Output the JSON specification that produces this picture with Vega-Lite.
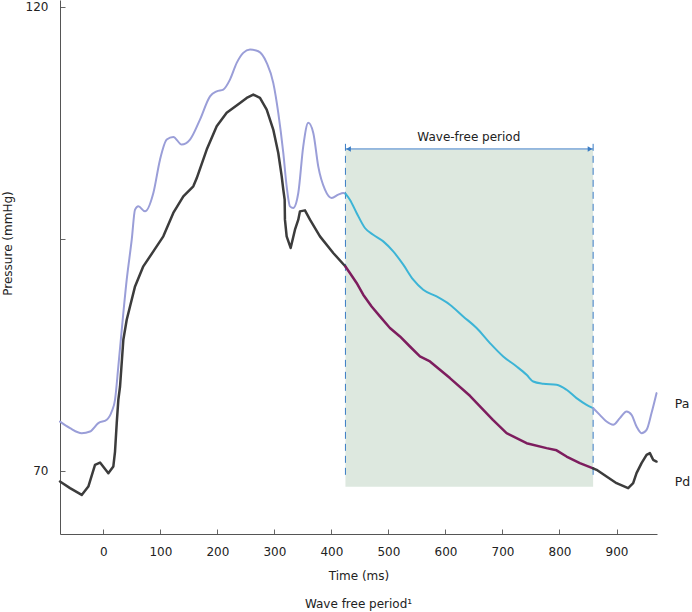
{
  "$schema": "https://vega.github.io/schema/vega-lite/v6.json",
  "width": 597,
  "height": 534,
  "autosize": {"type": "none"},
  "padding": {"left": 60, "top": 0, "right": 35, "bottom": 78},
  "background": "white",
  "config": {
    "view": {"stroke": null},
    "font": "DejaVu Sans",
    "axis": {
      "grid": false,
      "domainColor": "#555555",
      "tickColor": "#666666",
      "labelColor": "#222222",
      "labelFontSize": 12,
      "titleFontSize": 12,
      "titleFontWeight": "normal",
      "titleColor": "#222222",
      "tickSize": -5
    }
  },
  "title": {
    "text": "Wave free period¹",
    "orient": "bottom",
    "anchor": "middle",
    "fontSize": 12,
    "fontWeight": "normal",
    "color": "#222222",
    "offset": 18
  },
  "datasets": {
    "box": [{"t": 424.6, "t2": 859, "p": 68.28, "p2": 104.6}],
    "dash": [{"t": 424.6, "p": 69.57, "p2": 105.45}, {"t": 859, "p": 69.57, "p2": 105.45}],
    "arrow": [{"t": 424.6, "t2": 859, "p": 104.66}],
    "heads": [{"t": 430, "p": 104.66, "sh": "triangle-left"}, {"t": 853.6, "p": 104.66, "sh": "triangle-right"}],
    "labels": [{"t": 641, "p": 105.9, "txt": "Wave-free period"}],
    "names": [{"t": 1002, "p": 77.22, "txt": "Pa"}, {"t": 1002, "p": 68.81, "txt": "Pd"}],
    "pa": [
      {"g": "pre", "t": -76, "p": 75.3}, {"g": "pre", "t": -58.4, "p": 74.6}, {"g": "pre", "t": -37.9, "p": 74.06}, {"g": "pre", "t": -23.3, "p": 74.24},
      {"g": "pre", "t": -8.8, "p": 75.14}, {"g": "pre", "t": 6, "p": 75.5}, {"g": "pre", "t": 14.7, "p": 76.39}, {"g": "pre", "t": 20.5, "p": 77.65},
      {"g": "pre", "t": 26.3, "p": 81.24}, {"g": "pre", "t": 32.3, "p": 85.19}, {"g": "pre", "t": 41, "p": 90.58}, {"g": "pre", "t": 49.8, "p": 94.89},
      {"g": "pre", "t": 55.6, "p": 98.13}, {"g": "pre", "t": 61.4, "p": 98.48}, {"g": "pre", "t": 73.1, "p": 97.94}, {"g": "pre", "t": 87.7, "p": 99.92},
      {"g": "pre", "t": 99.4, "p": 103.51}, {"g": "pre", "t": 111.2, "p": 105.67}, {"g": "pre", "t": 122.7, "p": 105.96}, {"g": "pre", "t": 137.4, "p": 105.13},
      {"g": "pre", "t": 152, "p": 105.67}, {"g": "pre", "t": 169.5, "p": 107.82}, {"g": "pre", "t": 187.1, "p": 110.33}, {"g": "pre", "t": 198.8, "p": 110.87},
      {"g": "pre", "t": 210.4, "p": 111.06}, {"g": "pre", "t": 222.1, "p": 112.13}, {"g": "pre", "t": 233.9, "p": 113.93}, {"g": "pre", "t": 245.4, "p": 115.01},
      {"g": "pre", "t": 257.2, "p": 115.37}, {"g": "pre", "t": 271.7, "p": 115.18}, {"g": "pre", "t": 286.5, "p": 113.93}, {"g": "pre", "t": 298, "p": 111.78},
      {"g": "pre", "t": 306.8, "p": 108.55}, {"g": "pre", "t": 315.6, "p": 104.23}, {"g": "pre", "t": 321.5, "p": 100.64}, {"g": "pre", "t": 327.3, "p": 98.48},
      {"g": "pre", "t": 333.1, "p": 98.31}, {"g": "pre", "t": 341.9, "p": 99.92}, {"g": "pre", "t": 350.6, "p": 104.95}, {"g": "pre", "t": 359.4, "p": 107.47},
      {"g": "pre", "t": 368.2, "p": 106.39}, {"g": "pre", "t": 376.9, "p": 102.79}, {"g": "pre", "t": 388.7, "p": 100.28}, {"g": "pre", "t": 400.4, "p": 99.39},
      {"g": "pre", "t": 412, "p": 99.74}, {"g": "pre", "t": 420.8, "p": 99.92}, {"g": "pre", "t": 424.6, "p": 99.85},
      {"g": "wfp", "t": 424.6, "p": 99.85}, {"g": "wfp", "t": 432.4, "p": 99.2}, {"g": "wfp", "t": 444.2, "p": 97.77}, {"g": "wfp", "t": 458.8, "p": 96.15},
      {"g": "wfp", "t": 473.3, "p": 95.43}, {"g": "wfp", "t": 490.9, "p": 94.71}, {"g": "wfp", "t": 508.4, "p": 93.63}, {"g": "wfp", "t": 526, "p": 92.2},
      {"g": "wfp", "t": 543.5, "p": 90.58}, {"g": "wfp", "t": 561, "p": 89.5}, {"g": "wfp", "t": 584.5, "p": 88.78}, {"g": "wfp", "t": 607.8, "p": 87.89},
      {"g": "wfp", "t": 631.1, "p": 86.63}, {"g": "wfp", "t": 654.6, "p": 85.38}, {"g": "wfp", "t": 678, "p": 83.76}, {"g": "wfp", "t": 701.3, "p": 82.32},
      {"g": "wfp", "t": 724.8, "p": 81.24}, {"g": "wfp", "t": 742.3, "p": 80.34}, {"g": "wfp", "t": 753.9, "p": 79.62}, {"g": "wfp", "t": 771.4, "p": 79.38},
      {"g": "wfp", "t": 794.9, "p": 79.27}, {"g": "wfp", "t": 812.4, "p": 78.73}, {"g": "wfp", "t": 829.9, "p": 77.83}, {"g": "wfp", "t": 847.5, "p": 77.11},
      {"g": "wfp", "t": 859, "p": 76.76},
      {"g": "post", "t": 859, "p": 76.76}, {"g": "post", "t": 870.7, "p": 76.03}, {"g": "post", "t": 882.5, "p": 75.31}, {"g": "post", "t": 894.1, "p": 74.96},
      {"g": "post", "t": 905.9, "p": 75.68}, {"g": "post", "t": 917.6, "p": 76.39}, {"g": "post", "t": 926.4, "p": 76.03}, {"g": "post", "t": 935.1, "p": 74.77},
      {"g": "post", "t": 943.9, "p": 74.06}, {"g": "post", "t": 952.7, "p": 74.42}, {"g": "post", "t": 961.4, "p": 76.22}, {"g": "post", "t": 970.2, "p": 78.37}
    ],
    "pd": [
      {"g": "pre", "t": -76, "p": 68.85}, {"g": "pre", "t": -58.4, "p": 68.14}, {"g": "pre", "t": -37.9, "p": 67.41}, {"g": "pre", "t": -26.3, "p": 68.31},
      {"g": "pre", "t": -14.6, "p": 70.65}, {"g": "pre", "t": -5.8, "p": 70.89}, {"g": "pre", "t": 8.8, "p": 69.75}, {"g": "pre", "t": 17.5, "p": 70.46},
      {"g": "pre", "t": 20.5, "p": 72.08}, {"g": "pre", "t": 23.5, "p": 75.14}, {"g": "pre", "t": 26.3, "p": 77.65}, {"g": "pre", "t": 29.3, "p": 79.08},
      {"g": "pre", "t": 35.1, "p": 84.12}, {"g": "pre", "t": 41, "p": 86.27}, {"g": "pre", "t": 46.8, "p": 87.7}, {"g": "pre", "t": 55.6, "p": 89.86},
      {"g": "pre", "t": 70.1, "p": 92.02}, {"g": "pre", "t": 87.7, "p": 93.63}, {"g": "pre", "t": 105.2, "p": 95.25}, {"g": "pre", "t": 122.7, "p": 97.77},
      {"g": "pre", "t": 140.3, "p": 99.56}, {"g": "pre", "t": 157.8, "p": 100.64}, {"g": "pre", "t": 163.7, "p": 101.5}, {"g": "pre", "t": 181.3, "p": 104.59},
      {"g": "pre", "t": 198.8, "p": 107.1}, {"g": "pre", "t": 216.3, "p": 108.55}, {"g": "pre", "t": 239.7, "p": 109.62}, {"g": "pre", "t": 251.4, "p": 110.16},
      {"g": "pre", "t": 263, "p": 110.52}, {"g": "pre", "t": 274.7, "p": 110.16}, {"g": "pre", "t": 286.5, "p": 108.9}, {"g": "pre", "t": 298, "p": 106.75},
      {"g": "pre", "t": 306.8, "p": 104.23}, {"g": "pre", "t": 312.8, "p": 101.71}, {"g": "pre", "t": 315.6, "p": 100.28}, {"g": "pre", "t": 318, "p": 99.2},
      {"g": "pre", "t": 318.5, "p": 97.05}, {"g": "pre", "t": 321.5, "p": 95.25}, {"g": "pre", "t": 328.5, "p": 94.0}, {"g": "pre", "t": 336.1, "p": 95.97},
      {"g": "pre", "t": 341.9, "p": 97.05}, {"g": "pre", "t": 344.8, "p": 97.94}, {"g": "pre", "t": 353.6, "p": 98.05}, {"g": "pre", "t": 362.4, "p": 97.05},
      {"g": "pre", "t": 379.9, "p": 95.25}, {"g": "pre", "t": 403.2, "p": 93.46}, {"g": "pre", "t": 424.6, "p": 92.0},
      {"g": "wfp", "t": 424.6, "p": 92.0}, {"g": "wfp", "t": 432.4, "p": 91.3}, {"g": "wfp", "t": 444.2, "p": 90.23}, {"g": "wfp", "t": 455.8, "p": 88.97},
      {"g": "wfp", "t": 470.5, "p": 87.7}, {"g": "wfp", "t": 485.1, "p": 86.63}, {"g": "wfp", "t": 502.6, "p": 85.38}, {"g": "wfp", "t": 520.2, "p": 84.47},
      {"g": "wfp", "t": 537.7, "p": 83.39}, {"g": "wfp", "t": 555.2, "p": 82.32}, {"g": "wfp", "t": 572.8, "p": 81.78}, {"g": "wfp", "t": 590.3, "p": 80.88},
      {"g": "wfp", "t": 607.8, "p": 79.99}, {"g": "wfp", "t": 642.9, "p": 78.08}, {"g": "wfp", "t": 683.2, "p": 75.5}, {"g": "wfp", "t": 707.2, "p": 74.06},
      {"g": "wfp", "t": 742.3, "p": 72.98}, {"g": "wfp", "t": 777.3, "p": 72.45}, {"g": "wfp", "t": 794.9, "p": 72.21}, {"g": "wfp", "t": 812.4, "p": 71.54},
      {"g": "wfp", "t": 835.7, "p": 70.83}, {"g": "wfp", "t": 859, "p": 70.27},
      {"g": "post", "t": 859, "p": 70.27}, {"g": "post", "t": 865, "p": 70.11}, {"g": "post", "t": 882.5, "p": 69.39}, {"g": "post", "t": 900.1, "p": 68.67},
      {"g": "post", "t": 920.4, "p": 68.14}, {"g": "post", "t": 929.2, "p": 68.67}, {"g": "post", "t": 935.1, "p": 69.75}, {"g": "post", "t": 943.9, "p": 70.83},
      {"g": "post", "t": 952.7, "p": 71.72}, {"g": "post", "t": 958.5, "p": 71.91}, {"g": "post", "t": 964.2, "p": 71.19}, {"g": "post", "t": 970.2, "p": 71.0}
    ]
  },
  "layer": [
    {
      "data": {"name": "box"},
      "mark": {"type": "rect", "color": "#dde8df", "opacity": 1},
      "encoding": {
        "x": {
          "field": "t", "type": "quantitative", "title": "Time (ms)",
          "scale": {"domain": [-76, 971], "nice": false, "zero": false},
          "axis": {"values": [0, 100, 200, 300, 400, 500, 600, 700, 800, 900], "labelPadding": 17, "titlePadding": 13}
        },
        "x2": {"field": "t2"},
        "y": {
          "field": "p", "type": "quantitative", "title": "Pressure (mmHg)",
          "scale": {"domain": [63.2, 120.7], "nice": false, "zero": false},
          "axis": {"values": [70, 95, 120], "labelExpr": "datum.value == 95 ? '' : datum.label", "labelPadding": 17, "titleX": -46, "titleY": 243}
        },
        "y2": {"field": "p2"}
      }
    },
    {
      "data": {"name": "dash"},
      "mark": {"type": "rule", "color": "#3a7cc4", "strokeWidth": 1, "strokeDash": [7, 5]},
      "encoding": {
        "x": {"field": "t", "type": "quantitative", "title": "Time (ms)"},
        "y": {"field": "p", "type": "quantitative", "title": "Pressure (mmHg)"},
        "y2": {"field": "p2"}
      }
    },
    {
      "data": {"name": "pa"},
      "mark": {"type": "line", "strokeWidth": 2, "strokeJoin": "round", "strokeCap": "round", "interpolate": "monotone"},
      "encoding": {
        "x": {"field": "t", "type": "quantitative", "title": "Time (ms)"},
        "y": {"field": "p", "type": "quantitative", "title": "Pressure (mmHg)"},
        "color": {"field": "g", "type": "nominal", "scale": {"domain": ["pre", "wfp", "post"], "range": ["#9a9ed8", "#3cb4d6", "#9a9ed8"]}, "legend": null}
      }
    },
    {
      "data": {"name": "pd"},
      "mark": {"type": "line", "strokeWidth": 2.5, "strokeJoin": "round", "strokeCap": "round"},
      "encoding": {
        "x": {"field": "t", "type": "quantitative", "title": "Time (ms)"},
        "y": {"field": "p", "type": "quantitative", "title": "Pressure (mmHg)"},
        "stroke": {"field": "g", "type": "nominal", "scale": {"domain": ["pre", "wfp", "post"], "range": ["#3c3c3c", "#7d1d5e", "#3c3c3c"]}, "legend": null}
      }
    },
    {
      "data": {"name": "arrow"},
      "mark": {"type": "rule", "color": "#3a7cc4", "strokeWidth": 1},
      "encoding": {
        "x": {"field": "t", "type": "quantitative", "title": "Time (ms)"},
        "x2": {"field": "t2"},
        "y": {"field": "p", "type": "quantitative", "title": "Pressure (mmHg)"}
      }
    },
    {
      "data": {"name": "heads"},
      "mark": {"type": "point", "filled": true, "color": "#3a7cc4", "size": 30, "opacity": 1},
      "encoding": {
        "x": {"field": "t", "type": "quantitative", "title": "Time (ms)"},
        "y": {"field": "p", "type": "quantitative", "title": "Pressure (mmHg)"},
        "shape": {"field": "sh", "type": "nominal", "scale": null, "legend": null}
      }
    },
    {
      "data": {"name": "labels"},
      "mark": {"type": "text", "fontSize": 12, "color": "#222222", "align": "center", "baseline": "middle"},
      "encoding": {
        "x": {"field": "t", "type": "quantitative", "title": "Time (ms)"},
        "y": {"field": "p", "type": "quantitative", "title": "Pressure (mmHg)"},
        "text": {"field": "txt"}
      }
    },
    {
      "data": {"name": "names"},
      "mark": {"type": "text", "fontSize": 12.5, "color": "#222222", "align": "left", "baseline": "middle"},
      "encoding": {
        "x": {"field": "t", "type": "quantitative", "title": "Time (ms)"},
        "y": {"field": "p", "type": "quantitative", "title": "Pressure (mmHg)"},
        "text": {"field": "txt"}
      }
    }
  ]
}
